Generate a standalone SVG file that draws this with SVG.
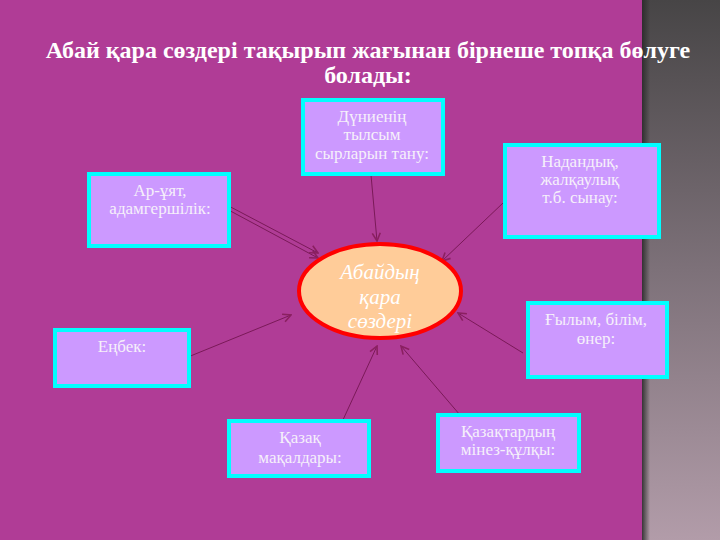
<svg xmlns="http://www.w3.org/2000/svg" width="720" height="540" viewBox="0 0 720 540">
<defs>
<linearGradient id="gray" x1="0" y1="0" x2="0" y2="1">
<stop offset="0" stop-color="#474546"/>
<stop offset="0.5" stop-color="#7d7179"/>
<stop offset="1" stop-color="#b29ca9"/>
</linearGradient>
<linearGradient id="shadow" x1="0" y1="0" x2="1" y2="0">
<stop offset="0" stop-color="#2a2a2a" stop-opacity="0.9"/>
<stop offset="1" stop-color="#2a2a2a" stop-opacity="0"/>
</linearGradient>
<marker id="arr" viewBox="0 0 10 10" refX="9" refY="5" markerWidth="10" markerHeight="10" markerUnits="userSpaceOnUse" orient="auto">
<path d="M1,1 L9,5 L1,9" fill="none" stroke="#8a2060" stroke-width="1.6"/>
</marker>
<style>
.box{fill:#CC99FF;stroke:#00FFFF;stroke-width:4}
.bt{font-family:"Liberation Serif","Times New Roman",serif;font-size:17px;fill:#F6F0FA;text-anchor:middle}
.title{font-family:"Liberation Serif","Times New Roman",serif;font-size:24px;font-weight:bold;fill:#FFFFFF;text-anchor:middle}
.ct{font-family:"Liberation Serif","Times New Roman",serif;font-size:21px;font-style:italic;fill:#FFFFFF;text-anchor:middle}
.c{stroke:#7a1a58;stroke-width:1;fill:none;marker-end:url(#arr)}
</style>
</defs>
<rect x="0" y="0" width="720" height="540" fill="#B03C96"/>
<rect x="642" y="0" width="78" height="540" fill="url(#gray)"/>
<rect x="642" y="0" width="8" height="540" fill="url(#shadow)"/>
<text class="title" x="368" y="58">Абай қара сөздері тақырып жағынан бірнеше топқа бөлуге</text>
<text class="title" x="368" y="83">болады:</text>
<g id="connectors">
<line class="c" x1="223" y1="207" x2="318" y2="258"/>
<line class="c" x1="225" y1="204" x2="318" y2="253"/>
<line class="c" x1="371" y1="175" x2="377" y2="241"/>
<line class="c" x1="503" y1="203" x2="442" y2="261"/>
<line class="c" x1="523" y1="353" x2="458" y2="313"/>
<line class="c" x1="460" y1="415" x2="401" y2="346"/>
<line class="c" x1="342" y1="422" x2="377" y2="346"/>
<line class="c" x1="188" y1="357" x2="291" y2="315"/>
</g>
<g id="center">
<ellipse cx="380" cy="291" rx="81" ry="47" fill="#FFCC99" stroke="#FF0000" stroke-width="4"/>
<text class="ct" x="380" y="279">Абайдың</text>
<text class="ct" x="380" y="304">қара</text>
<text class="ct" x="380" y="328">сөздері</text>
</g>
<g id="n-aryat">
<rect class="box" x="89" y="174" width="140" height="72"/>
<text class="bt" x="160" y="196">Ар-ұят,</text>
<text class="bt" x="160" y="214">адамгершілік:</text>
</g>
<g id="n-dunie">
<rect class="box" x="303" y="100" width="140" height="74"/>
<text class="bt" x="372" y="122">Дүниенің</text>
<text class="bt" x="372" y="140">тылсым</text>
<text class="bt" x="372" y="159">сырларын тану:</text>
</g>
<g id="n-nadan">
<rect class="box" x="505" y="145" width="154" height="92"/>
<text class="bt" x="580" y="167">Надандық,</text>
<text class="bt" x="580" y="185">жалқаулық</text>
<text class="bt" x="580" y="203">т.б. сынау:</text>
</g>
<g id="n-gylym">
<rect class="box" x="528" y="303" width="139" height="74"/>
<text class="bt" x="596" y="325">Ғылым, білім,</text>
<text class="bt" x="596" y="344">өнер:</text>
</g>
<g id="n-enbek">
<rect class="box" x="55" y="330" width="134" height="56"/>
<text class="bt" x="122" y="352">Еңбек:</text>
</g>
<g id="n-makal">
<rect class="box" x="229" y="421" width="140" height="55"/>
<text class="bt" x="300" y="443">Қазақ</text>
<text class="bt" x="300" y="463">мақалдары:</text>
</g>
<g id="n-minez">
<rect class="box" x="438" y="415" width="141" height="56"/>
<text class="bt" x="508" y="437">Қазақтардың</text>
<text class="bt" x="508" y="455">мінез-құлқы:</text>
</g>
</svg>
